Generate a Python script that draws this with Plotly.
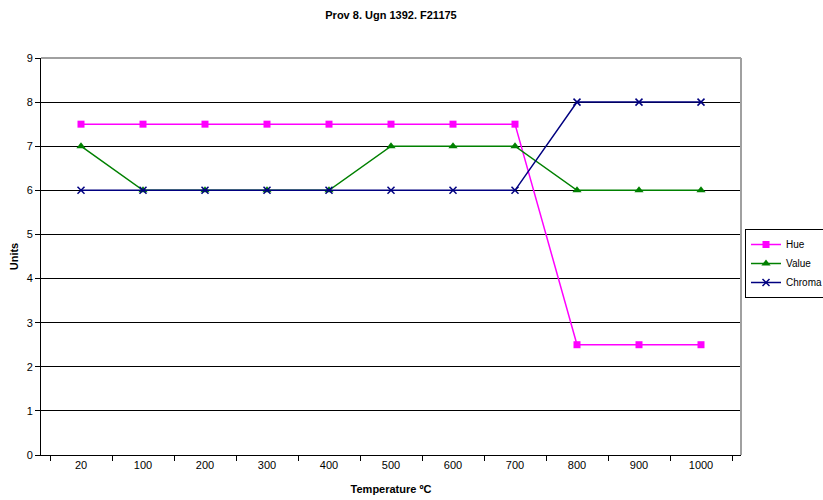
import plotly.graph_objects as go

categories = ["20", "100", "200", "300", "400", "500", "600", "700", "800", "900", "1000"]
hue = [7.5, 7.5, 7.5, 7.5, 7.5, 7.5, 7.5, 7.5, 2.5, 2.5, 2.5]
value = [7, 6, 6, 6, 6, 7, 7, 7, 6, 6, 6]
chroma = [6, 6, 6, 6, 6, 6, 6, 6, 8, 8, 8]

W, H = 823, 500
L, R, T, B = 41, 82, 58, 45
PW, PH = W - L - R, H - T - B

fig = go.Figure()
fig.add_trace(go.Scatter(x=categories, y=hue, name="Hue", mode="lines+markers",
                         line=dict(color="#FF00FF", width=1.5),
                         marker=dict(symbol="square", size=7, color="#FF00FF")))
fig.add_trace(go.Scatter(x=categories, y=value, name="Value", mode="lines+markers",
                         line=dict(color="#008000", width=1.5),
                         marker=dict(symbol="triangle-up", size=8, color="#008000")))
fig.add_trace(go.Scatter(x=categories, y=chroma, name="Chroma", mode="lines+markers",
                         line=dict(color="#000080", width=1.5),
                         marker=dict(symbol="x-thin", size=7, color="#000080",
                                     line=dict(color="#000080", width=1.5))))

fig.update_layout(
    width=W, height=H,
    margin=dict(l=L, r=R, t=T, b=B, autoexpand=False),
    paper_bgcolor="white", plot_bgcolor="white",
    font=dict(family="Arial, Liberation Sans, sans-serif", size=11, color="black"),
    title=dict(text="<b>Prov 8. Ugn 1392. F21175</b>", x=0.5, xref="paper",
               y=1 - 15 / H, yanchor="middle", font=dict(size=11)),
    showlegend=True,
    legend=dict(x=(745 - L) / PW, y=(455 - 229) / PH, xanchor="left", yanchor="top",
                bordercolor="black", borderwidth=1, bgcolor="white",
                font=dict(size=10), itemwidth=30, tracegroupgap=0),
    xaxis=dict(type="category", tickson="boundaries", ticks="outside", ticklen=5,
               tickcolor="black", showline=True, linecolor="black", linewidth=1,
               showgrid=False, zeroline=False, automargin=False,
               title=dict(text="<b>Temperature ºC</b>", standoff=15, font=dict(size=11)),
               tickfont=dict(size=11)),
    yaxis=dict(range=[0, 9], dtick=1, ticks="outside", ticklen=5, tickcolor="black",
               showline=True, linecolor="black", linewidth=1, automargin=False,
               showgrid=True, gridcolor="black", gridwidth=1, zeroline=False,
               title=dict(text="<b>Units</b>", standoff=5, font=dict(size=11)),
               tickfont=dict(size=11)),
)

# gray plot-area border (top and right)
fig.add_shape(type="line", xref="paper", yref="paper", x0=0, x1=1, y0=1, y1=1,
              line=dict(color="#A0A0A0", width=2), layer="above")
fig.add_shape(type="line", xref="paper", yref="paper", x0=1, x1=1, y0=0, y1=1,
              line=dict(color="#A0A0A0", width=2), layer="above")

fig.write_html("out.html", config={"displayModeBar": False},
               post_script="document.body.style.margin='0';document.body.style.overflow='hidden';")
